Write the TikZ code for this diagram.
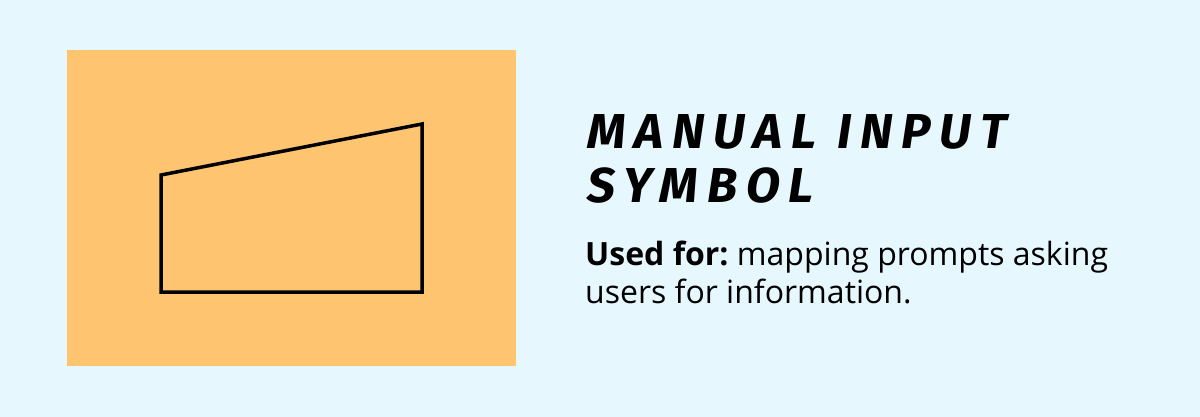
\documentclass[tikz,border=0pt]{standalone}
\usepackage{fontspec}
\setmainfont{Open Sans}
\newfontfamily\titlefont[LetterSpace=18,FakeSlant=0.15]{Fira Sans}
\definecolor{bgc}{RGB}{230,247,253}
\definecolor{orangec}{RGB}{254,196,112}
\frenchspacing
\begin{document}
\begin{tikzpicture}[x=1pt,y=-1pt,
  titletxt/.style={anchor=base west,inner sep=0pt,font=\titlefont\fontsize{49}{49}\selectfont\bfseries},
  bodytxt/.style={anchor=base west,inner sep=0pt,font=\fontsize{32}{32}\selectfont}]
\useasboundingbox (0,0) rectangle (1200,417);
\fill[bgc] (0,0) rectangle (1200,417);
\fill[orangec] (67,50) rectangle (516,366);
\coordinate (p1) at (161,175);
\coordinate (p2) at (422,124);
\coordinate (p3) at (422,292);
\coordinate (p4) at (161,292);
\draw[line width=3.5pt,line join=miter] (p1) -- (p2) -- (p3) -- (p4) -- cycle;
\node[titletxt] (t1) at (585,149) {MANUAL INPUT};
\node[titletxt] (t2) at (585,203) {SYMBOL};
\node[bodytxt] (b1) at (585,265) {\frenchspacing\textbf{Used for:} mapping prompts asking};
\node[bodytxt] (b2) at (585,303) {users for information.};
\end{tikzpicture}
\end{document}
